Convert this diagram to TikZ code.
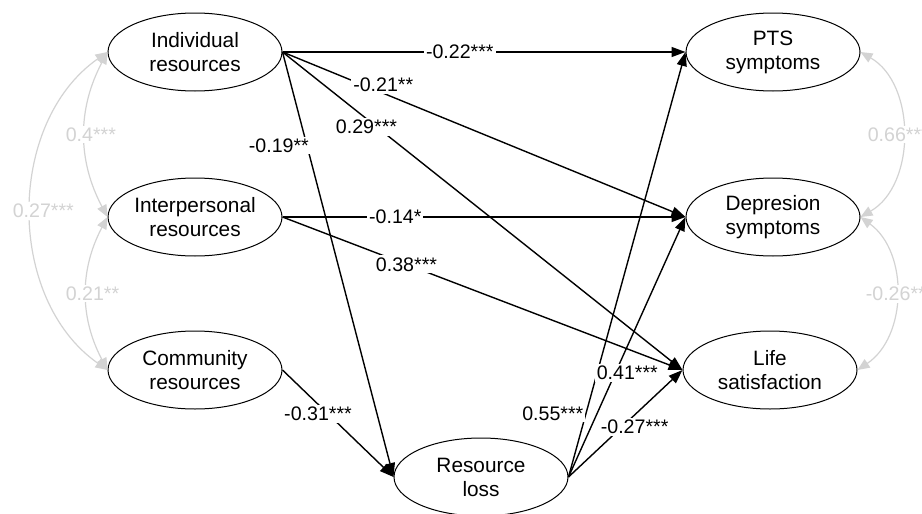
\documentclass[tikz,border=0pt]{standalone}
\usepackage{fontspec}
\setmainfont{Liberation Sans}
\usetikzlibrary{shapes.geometric,arrows.meta}

\definecolor{lightgrey}{HTML}{D3D3D3}

\tikzset{
  latent/.style={ellipse, draw, line width=0.5pt, minimum width=87pt, minimum height=39pt,
    inner sep=0pt, align=center, font=\fontsize{10.4}{12}\selectfont},
  reg/.style={line width=0.7pt, -{Triangle[length=7pt,width=5pt]}},
  cov/.style={line width=0.6pt, draw=lightgrey, {Triangle[length=6pt,width=5pt]}-{Triangle[length=6pt,width=5pt]}},
  coef/.style={fill=white, inner sep=1pt, font=\fontsize{9.8}{11}\selectfont},
  covcoef/.style={coef, text=lightgrey},
}

\begin{document}
\begin{tikzpicture}[x=0.5pt, y=-0.5pt]

\useasboundingbox (0,0) rectangle (922,514);

% Resources (left column)
\path
(195,52) node[latent] (indiv) {Individual\\resources}
(195,217) node[latent] (inter) {Interpersonal\\resources}
(195,370) node[latent] (comm) {Community\\resources};

% Mediator
\path
(481,477) node[latent] (loss) {Resource\\loss};

% Outcomes (right column)
\path
(773,52) node[latent] (pts) {PTS\\symptoms}
(773,217) node[latent] (dep) {Depresion\\symptoms}
(770,370) node[latent] (life) {Life\\satisfaction};


% Paths from individual resources
\draw[reg] (indiv.east) -- node[coef, pos=0.44] {-0.22***} (pts.west);
\draw[reg] (indiv.east) -- node[coef, pos=0.25, yshift=4pt] {-0.21**} (dep.west);
\draw[reg] (indiv.east) -- node[coef, pos=0.21, yshift=-4pt] {0.29***} (life.west);
\draw[reg] (indiv.east) -- node[coef, pos=0.22, xshift=-14pt] {-0.19**} (loss.west);

% Paths from interpersonal resources
\draw[reg] (inter.east) -- node[coef, pos=0.28] {-0.14*} (dep.west);
\draw[reg] (inter.east) -- node[coef, pos=0.31] {0.38***} (life.west);

% Path from community resources
\draw[reg] (comm.east) -- node[coef, pos=0.32, yshift=-5pt] {-0.31***} (loss.west);

% Paths from resource loss
\draw[reg] (loss.east) -- node[coef, pos=0.15, anchor=east] {0.55***} (pts.west);
\draw[reg] (loss.east) -- node[coef, pos=0.4, xshift=6pt] {0.41***} (dep.west);
\draw[reg] (loss.east) -- node[coef, pos=0.58, yshift=-6pt] {-0.27***} (life.west);


% Covariances
\draw[cov] (indiv.west) to[bend right=28] node[covcoef, xshift=3pt] {0.4***} (inter.west);
\draw[cov] (inter.west) to[bend right=28] node[covcoef, xshift=3pt] {0.21**} (comm.west);
\draw[cov] (indiv.west) to[bend right=55] node[covcoef, xshift=6pt] {0.27***} (comm.west);
\draw[cov] (pts.east) to[bend left=60] node[covcoef, xshift=-2pt] {0.66***} (dep.east);
\draw[cov] (dep.east) to[bend left=55] node[covcoef] {-0.26**} (life.east);

\end{tikzpicture}
\end{document}
